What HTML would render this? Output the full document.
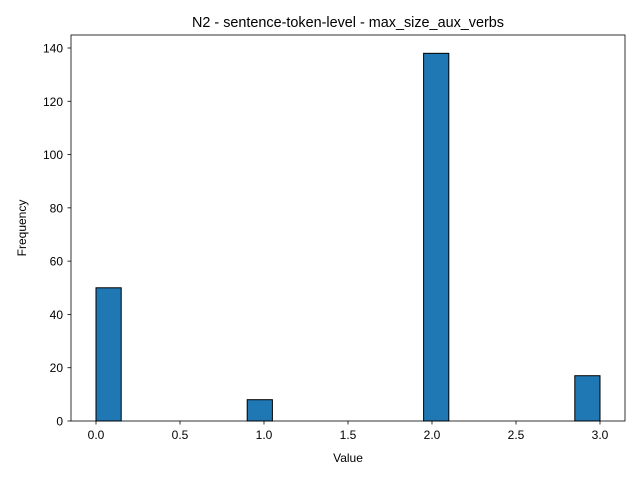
<!DOCTYPE html>
<html><head><meta charset="utf-8">
<style>
html,body{margin:0;padding:0;background:#fff;}
svg{display:block;font-family:"Liberation Sans","DejaVu Sans",sans-serif;}
</style></head>
<body>
<svg id="chart" width="640" height="480" viewBox="0 0 640 480" xmlns="http://www.w3.org/2000/svg">
<rect width="640" height="480" fill="#fff"/>
<text x="348" y="27" font-size="14.4" text-anchor="middle">N2 - sentence-token-level - max_size_aux_verbs</text>
<g id="bars"></g>
<g id="xticks"></g>
<g id="yticks"></g>
<rect x="71" y="35" width="554" height="386" fill="none" stroke="#000" stroke-width="0.8"/>
<text x="348" y="462" font-size="12" text-anchor="middle">Value</text>
<text x="26" y="228" font-size="12" text-anchor="middle" transform="rotate(-90 26 228)">Frequency</text>
</svg>
<script>
const binStarts = [0, 0.9, 1.95, 2.85];
const binCounts = [50, 8, 138, 17];
const binWidth = 0.15;
const xTickValues = [0, 0.5, 1, 1.5, 2, 2.5, 3];
const xTickLabels = ["0.0","0.5","1.0","1.5","2.0","2.5","3.0"];
const yTickValues = [0, 20, 40, 60, 80, 100, 120, 140];

const NS = "http://www.w3.org/2000/svg";
function xs(v){ return 96 + v * 168; }
function ys(v){ return 421 - v * (373 / 140); }

const bars = document.getElementById('bars');
binStarts.forEach((s, i) => {
  const r = document.createElementNS(NS, 'rect');
  
  
  const x0 = xs(s), x1 = xs(s + binWidth), y = ys(binCounts[i]);
  r.setAttribute('x', x0); r.setAttribute('y', y);
  r.setAttribute('width', x1 - x0); r.setAttribute('height', ys(0) - y);
  r.setAttribute('fill', '#1f77b4'); r.setAttribute('stroke', '#000'); r.setAttribute('stroke-width', '1');
  bars.appendChild(r);
});

const xt = document.getElementById('xticks');
xTickValues.forEach((v, i) => {
  const x = xs(v);
  const l = document.createElementNS(NS, 'line');
  
  
  l.setAttribute('x1', x); l.setAttribute('x2', x); l.setAttribute('y1', 421); l.setAttribute('y2', 424.5);
  l.setAttribute('stroke', '#000'); l.setAttribute('stroke-width', '0.8');
  xt.appendChild(l);
  const t = document.createElementNS(NS, 'text');
  
  
  t.setAttribute('x', x); t.setAttribute('y', 439); t.setAttribute('font-size', '12'); t.setAttribute('text-anchor', 'middle');
  t.textContent = xTickLabels[i];
  xt.appendChild(t);
});

const yt = document.getElementById('yticks');
yTickValues.forEach(v => {
  const y = ys(v);
  const l = document.createElementNS(NS, 'line');
  
  
  l.setAttribute('x1', 67.5); l.setAttribute('x2', 71); l.setAttribute('y1', y); l.setAttribute('y2', y);
  l.setAttribute('stroke', '#000'); l.setAttribute('stroke-width', '0.8');
  yt.appendChild(l);
  const t = document.createElementNS(NS, 'text');
  
  
  t.setAttribute('x', 63); t.setAttribute('y', y + 4.5); t.setAttribute('font-size', '12'); t.setAttribute('text-anchor', 'end');
  t.textContent = String(v);
  yt.appendChild(t);
});
</script>
</body></html>
